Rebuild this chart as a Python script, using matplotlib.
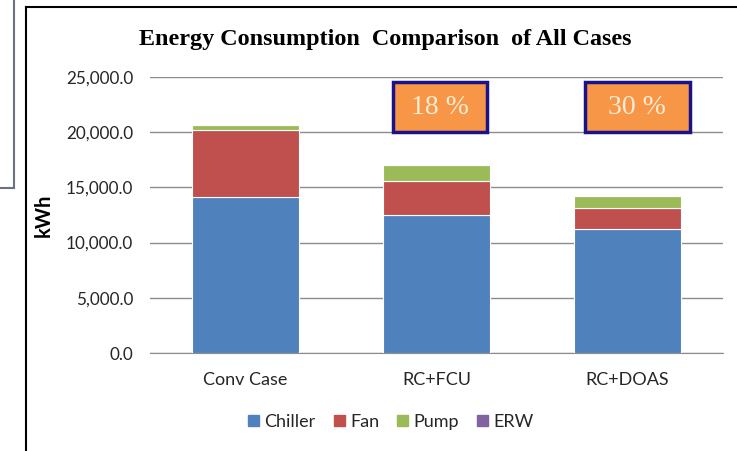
import numpy as np
import matplotlib.pyplot as plt
from matplotlib.lines import Line2D
from matplotlib.patches import Rectangle

# energy use per case, kWh
cases = ["Conv Case", "RC+FCU", "RC+DOAS"]
chiller = [14100, 12500, 11200]
fan = [6100, 3100, 1950]
pump = [420, 1400, 1100]
erw = [0, 0, 0]
savings = ["18 %", "30 %"]

series = [("Chiller", chiller, "#4F81BD"),
          ("Fan", fan, "#C0504D"),
          ("Pump", pump, "#9BBB59"),
          ("ERW", erw, "#8064A2")]

fig = plt.figure(figsize=(7.37, 4.51), dpi=100)
ax = fig.add_axes([150 / 737, 1 - 353 / 451, 573 / 737, 276 / 451])

x = np.arange(len(cases))
bottom = np.zeros(len(cases))
for name, vals, col in series:
    ax.bar(x, vals, width=0.565, bottom=bottom, color=col,
           edgecolor="white", linewidth=0.8, label=name, zorder=3)
    bottom += np.array(vals)

ax.set_xlim(-0.5, 2.5)
ax.set_ylim(0, 25000)
ax.set_yticks(np.arange(0, 25001, 5000))
ax.set_yticklabels([f"{v:,.1f}" for v in np.arange(0, 25001, 5000)])
ax.set_xticks(x)
ax.set_xticklabels(cases)
ax.yaxis.grid(True, color="#8c8c8c", linewidth=1, zorder=0)
for s in ["top", "right", "left"]:
    ax.spines[s].set_visible(False)
ax.spines["bottom"].set_color("#8c8c8c")
ax.tick_params(axis="y", length=0, pad=12, labelsize=12.3, labelcolor="#262626")
ax.tick_params(axis="x", length=0, pad=14, labelsize=13, labelcolor="#262626")
for lab in ax.get_xticklabels() + ax.get_yticklabels():
    lab.set_fontfamily("Lato")

ax.set_ylabel("kWh", fontsize=14.5, fontweight="bold", family="Lato")
ax.yaxis.set_label_coords(-0.168, 0.5)

fig.text(385 / 737, 1 - 40 / 451, "Energy Consumption  Comparison  of All Cases",
         ha="center", va="center", fontsize=17.4, fontweight="bold",
         family="Liberation Serif")

# savings boxes over the two retrofit cases
boxes = [(0.772, 0.492), (1.777, 0.55)]
for (x0, w), txt in zip(boxes, savings):
    ax.add_patch(Rectangle((x0, 20000), w, 4530, facecolor="#F79646",
                           edgecolor="#1A1288", linewidth=2.5, zorder=5,
                           clip_on=False))
    ax.text(x0 + w / 2, 22265, txt, ha="center", va="center", fontsize=20,
            color="#FCEBD6", family="Liberation Serif", zorder=6)

handles = [Rectangle((0, 0), 1, 1, color=c) for _, _, c in series]
fig.legend(handles, [n for n, _, _ in series], loc="center",
           bbox_to_anchor=(391 / 737, 1 - 422 / 451), ncol=4, frameon=False,
           prop={"family": "Lato", "size": 13}, handlelength=0.6,
           handleheight=0.6, handletextpad=0.3, columnspacing=1.0,
           labelcolor="#262626")

# chart frame lines
fig.add_artist(Line2D([26 / 737, 1], [1 - 7 / 451] * 2, color="black", lw=1.5))
fig.add_artist(Line2D([26 / 737] * 2, [0, 1 - 7 / 451], color="black", lw=1.5))
fig.add_artist(Line2D([14 / 737] * 2, [1, 1 - 188 / 451], color="#6b7280", lw=1.5))
fig.add_artist(Line2D([0, 14 / 737], [1 - 188 / 451] * 2, color="#6b7280", lw=1.5))

fig.savefig("out.png", dpi=100)
